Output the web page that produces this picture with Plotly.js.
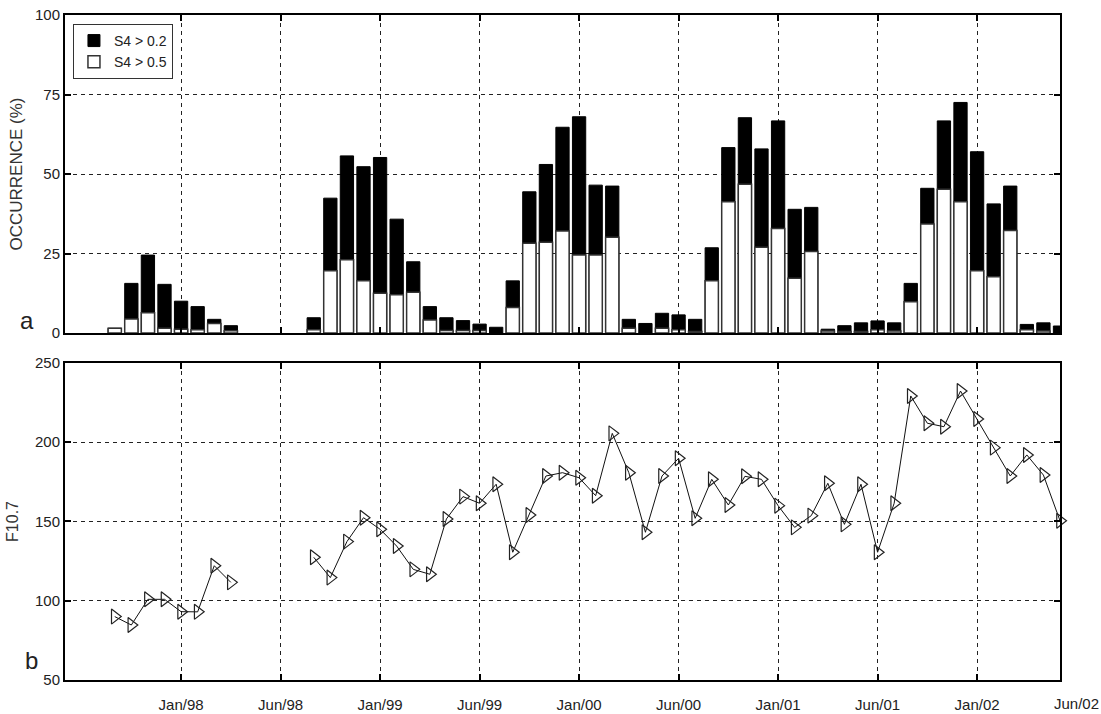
<!DOCTYPE html>
<html>
<head>
<meta charset="utf-8">
<script src="https://cdn.plot.ly/plotly-3.0.1.min.js"></script>
<style>
html,body{margin:0;padding:0;background:#fff;}
#chart{width:1101px;height:714px;}
</style>
</head>
<body>
<div id="chart"></div>
<script>
// Month index (Jan/98 = 7, Jun/02 = 61 label position, axis ends at 60)
const monthIdx = [3,4,5,6,7,8,9,10,11,12,13,14,15,16,17,18,19,20,21,22,23,24,25,26,27,28,29,30,
  31,32,33,34,35,36,37,38,39,40,41,42,43,44,45,46,47,48,49,50,51,52,53,54,55,56,57,58,59,60];

// Occurrence (%) of S4 > 0.2
const s4Above02 = [1.5,15.6,24.5,15.3,10,8.3,4.3,2.3,null,null,null,null,4.8,42.4,55.7,52.3,55.2,35.8,22.4,8.3,
  4.8,3.9,2.8,1.8,16.4,44.4,53,64.7,68,46.5,46.2,4.3,3.0,6.2,5.7,4.3,26.8,58.3,67.7,57.9,
  66.7,38.9,39.5,1.2,2.3,3.2,3.8,3.2,15.6,45.5,66.7,72.5,57,40.6,46.2,2.7,3.2,2.2];

// Occurrence (%) of S4 > 0.5
const s4Above05 = [1.5,4.4,6.4,1.5,1.2,1.0,3.0,0.7,null,null,null,null,1.0,19.6,23,16.4,12.5,12,12.8,4.1,
  0.8,0.8,0.8,null,8,28.2,28.5,32.1,24.5,24.5,30.1,1.5,null,1.5,1.0,0.5,16.4,41.3,46.8,27,
  32.9,17.2,25.6,0.6,0.5,0.5,1.0,0.6,9.8,34.3,45.2,41.3,19.6,17.7,32.2,1.0,0.6,null];

// Monthly mean F10.7
const f107 = [90,84.7,100.9,100.9,93.1,93,122.1,111.6,null,null,null,null,127.4,114.6,137.3,152.4,145.1,134.5,119.8,116.7,
  151.6,165.7,161.5,173.5,130.6,154.1,178.7,180.8,177.6,166.3,205.6,180.8,143.2,178.7,189.9,152,176.6,160.4,178.5,176.6,
  160,146.3,153.7,174.1,148.2,173.5,130.6,161.5,229.2,212,209.8,232.3,214.7,196.6,178.7,192,179.3,150.5];

const xTickVals = [7,13,19,25,31,37,43,49,55];
const xTickText = ["Jan/98","Jun/98","Jan/99","Jun/99","Jan/00","Jun/00","Jan/01","Jun/01","Jan/02"];
const lastTickVal = 61;
const lastTickText = "Jun/02";
const occTicks = [0,25,50,75,100];
const f107Ticks = [50,100,150,200,250];

const X_RANGE = [0,60];
const FONT = "Liberation Sans, Arial, sans-serif";

const traces = [
  {type:'bar', x: monthIdx, y: s4Above02, name:'S4 > 0.2', xaxis:'x', yaxis:'y', width:0.8,
   marker:{color:'#000', line:{color:'#000', width:1}}},
  {type:'bar', x: monthIdx, y: s4Above05, name:'S4 > 0.5', xaxis:'x', yaxis:'y', width:0.8,
   marker:{color:'#fff', line:{color:'#333', width:1.5}}},
  {type:'scatter', mode:'lines+markers', x: monthIdx, y: f107, xaxis:'x2', yaxis:'y2',
   showlegend:false, connectgaps:false, cliponaxis:false,
   line:{color:'#111', width:1},
   marker:{symbol:'triangle-right-open', size:13, color:'#222', line:{width:1.2, color:'#222'}}}
];

const axBase = {
  showline:true, linecolor:'#000', linewidth:2, mirror:'ticks',
  ticks:'inside', ticklen:6, tickwidth:2, tickcolor:'#000',
  showgrid:true, gridcolor:'#222', gridwidth:1, griddash:'4px,4px',
  zeroline:false, tickfont:{family:FONT, size:15, color:'#222'}
};

// paper-fraction position of the out-of-range last x label
const lastLabelX = (lastTickVal - X_RANGE[0]) / (X_RANGE[1] - X_RANGE[0]);

const layout = {
  width:1101, height:714,
  margin:{l:65, r:41, t:15, b:34},
  paper_bgcolor:'#fff', plot_bgcolor:'#fff',
  barmode:'overlay', bargap:0,
  showlegend:true,
  legend:{x:0.008, y:0.9865, xanchor:'left', yanchor:'top', bgcolor:'#fff',
          bordercolor:'#333', borderwidth:1, font:{family:FONT, size:14, color:'#222'},
          traceorder:'normal'},
  xaxis:Object.assign({}, axBase, {domain:[0,1], anchor:'y', range:X_RANGE,
          tickvals:xTickVals, ticktext:xTickText, showticklabels:false}),
  yaxis:Object.assign({}, axBase, {domain:[0.5218,1], anchor:'x', range:[0,100],
          tickvals:occTicks,
          title:{text:'OCCURRENCE (%)', font:{family:FONT, size:17, color:'#333'}, standoff:8}}),
  xaxis2:Object.assign({}, axBase, {domain:[0,1], anchor:'y2', range:X_RANGE,
          tickvals:xTickVals, ticktext:xTickText, ticklabelstandoff:10}),
  yaxis2:Object.assign({}, axBase, {domain:[0,0.4767], anchor:'x2', range:[50,250],
          tickvals:f107Ticks,
          title:{text:'F10.7', font:{family:FONT, size:16, color:'#333'}, standoff:12}}),
  annotations:[
    {text:'a', xref:'paper', yref:'paper', x:-0.0377, y:0.54, xanchor:'center', yanchor:'middle',
     showarrow:false, font:{family:FONT, size:24, color:'#222'}},
    {text:'b', xref:'paper', yref:'paper', x:-0.0335, y:0.03, xanchor:'center', yanchor:'middle',
     showarrow:false, font:{family:FONT, size:24, color:'#222'}},
    {text:lastTickText, xref:'paper', yref:'paper', x:lastLabelX, y:-0.035, xanchor:'center', yanchor:'middle',
     showarrow:false, font:{family:FONT, size:15, color:'#222'}}
  ]
};

Plotly.newPlot('chart', traces, layout, {displayModeBar:false, staticPlot:true});
</script>
</body>
</html>
